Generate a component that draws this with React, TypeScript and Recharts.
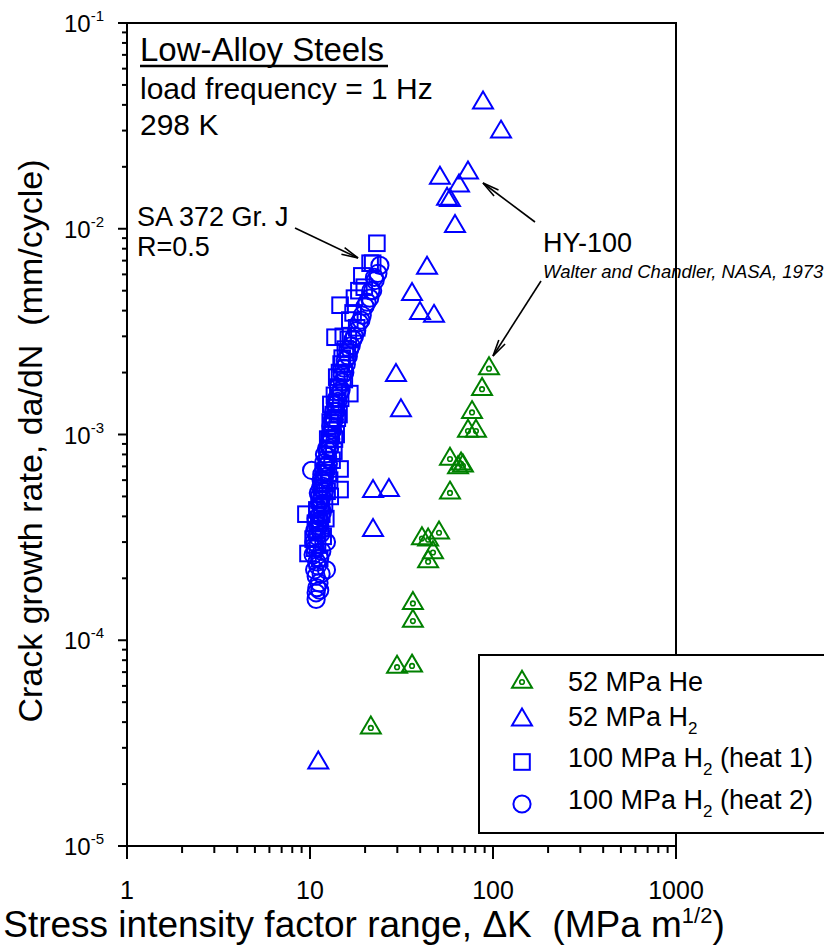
import React from "react";
import { ScatterChart, Scatter, XAxis, YAxis, ReferenceArea, Legend } from "recharts";

const FONT = '"Liberation Sans", Arial, Helvetica, sans-serif';

// 52 MPa He (HY-100)
const heliumDK = [95.1, 87.1, 76.8, 73.0, 80.7, 58.2, 66.9, 68.5, 64.4, 58.2, 40.9, 44.2, 50.7, 47.0, 44.2, 36.5, 36.5, 29.9, 36.1, 21.5];
const heliumRate = [2.09e-3, 1.66e-3, 1.28e-3, 1.04e-3, 1.04e-3, 7.6e-4, 7.2e-4, 7.05e-4, 6.9e-4, 5.2e-4, 3.12e-4, 3.08e-4, 3.33e-4, 2.67e-4, 2.41e-4, 1.51e-4, 1.24e-4, 7.4e-5, 7.5e-5, 3.75e-5];

// 52 MPa H2 (HY-100)
const h2DK = [88.2, 110.6, 73.0, 51.3, 65.2, 56.1, 58.2, 62.0, 43.6, 36.1, 39.9, 47.6, 29.5, 31.4, 22.1, 27.0, 22.1, 11.1];
const h2Rate = [4.22e-2, 3.05e-2, 1.93e-2, 1.82e-2, 1.67e-2, 1.44e-2, 1.42e-2, 1.06e-2, 6.64e-3, 4.96e-3, 4.01e-3, 3.88e-3, 2.0e-3, 1.35e-3, 5.46e-4, 5.52e-4, 3.53e-4, 2.62e-5];

// 100 MPa H2, heat 1 (SA 372 Gr. J)
const heat1DK = [
  23.2, 21.3, 22.0, 19.2, 19.8, 18.5, 17.5, 14.6, 17.2, 16.5, 18.0, 13.7, 16.2, 15.6, 14.8, 14.2, 16.5, 13.0, 13.8, 14.4,
  13.2, 13.9, 12.8, 13.5, 12.4, 14.6, 12.6, 12.0, 14.6, 12.9, 11.5, 9.5, 12.2, 11.2, 11.0, 11.8, 10.6, 9.75, 11.3,
  15.2, 16.0, 15.0, 14.5, 15.4, 14.0, 14.7, 13.6, 14.1, 13.4, 12.9, 13.6, 13.0, 12.5, 13.2, 12.3, 12.8, 11.8, 12.4, 11.6,
  12.0, 11.2, 11.6, 10.9, 11.4, 10.7, 10.4, 11.0,
];
const heat1Rate = [
  8.5e-3, 6.8e-3, 6.8e-3, 5.9e-3, 5.2e-3, 5.0e-3, 4.6e-3, 4.25e-3, 3.9e-3, 3.6e-3, 3.3e-3, 2.97e-3, 2.9e-3, 2.6e-3, 2.2e-3, 1.7e-3, 1.58e-3, 1.4e-3, 1.35e-3, 1.25e-3,
  1.1e-3, 1.0e-3, 9.0e-4, 8.3e-4, 8.0e-4, 6.8e-4, 6.5e-4, 5.8e-4, 5.4e-4, 5.0e-4, 4.5e-4, 4.1e-4, 3.9e-4, 3.7e-4, 3.4e-4, 3.2e-4, 2.8e-4, 2.64e-4, 2.5e-4,
  3.0e-3, 2.5e-3, 2.35e-3, 2.0e-3, 1.85e-3, 1.9e-3, 1.5e-3, 1.55e-3, 1.2e-3, 1.25e-3, 1.15e-3, 9.5e-4, 1.0e-3, 9.5e-4, 7.5e-4, 7.0e-4, 6.0e-4, 6.5e-4, 5.3e-4, 5.5e-4,
  4.6e-4, 4.8e-4, 4.1e-4, 4.3e-4, 3.5e-4, 3.7e-4, 3.1e-4, 2.9e-4,
];

// 100 MPa H2, heat 2
const heat2DK = [
  24.1, 23.5, 22.7, 22.5, 21.5, 22.0, 21.2, 20.5, 20.0, 19.3, 19.0, 18.6, 18.0, 17.5, 17.2, 16.8, 16.2, 15.8, 15.3, 15.5,
  15.0, 14.6, 14.0, 14.2, 13.9, 13.3, 13.6, 13.3, 13.0, 12.8, 12.0, 12.5, 12.2, 10.2, 12.0, 11.5, 11.8, 11.6, 11.4, 11.2,
  11.0, 10.9, 12.3, 10.7, 11.3, 11.0, 12.3, 10.8, 11.2, 10.9, 10.8, 10.8,
  16.5, 15.6, 15.0, 14.3, 14.8, 13.8, 13.5, 13.0, 12.9, 12.6, 12.3, 12.6, 11.9, 12.1, 11.6, 11.4, 12.0, 11.1, 11.5, 11.0,
  11.7, 10.8, 11.3, 10.6, 11.5, 10.5, 11.6, 10.4, 10.9, 11.5, 10.6, 11.3,
];
const heat2Rate = [
  6.64e-3, 6.07e-3, 5.6e-3, 5.8e-3, 5.0e-3, 5.0e-3, 4.6e-3, 4.4e-3, 4.2e-3, 3.8e-3, 3.6e-3, 3.5e-3, 3.2e-3, 3.0e-3, 2.9e-3, 2.7e-3, 2.4e-3, 2.2e-3, 2.1e-3, 2.0e-3,
  1.8e-3, 1.6e-3, 1.5e-3, 1.45e-3, 1.3e-3, 1.2e-3, 1.18e-3, 1.05e-3, 9.5e-4, 8.6e-4, 8.0e-4, 7.8e-4, 7.0e-4, 6.7e-4, 6.2e-4, 6.0e-4, 5.6e-4, 5.0e-4, 4.5e-4, 4.0e-4,
  3.6e-4, 3.2e-4, 3.0e-4, 2.8e-4, 2.5e-4, 2.3e-4, 2.2e-4, 2.05e-4, 1.9e-4, 1.8e-4, 1.7e-4, 1.58e-4,
  2.6e-3, 2.3e-3, 1.95e-3, 1.7e-3, 1.65e-3, 1.4e-3, 1.3e-3, 1.1e-3, 1.0e-3, 9.0e-4, 8.5e-4, 7.2e-4, 7.3e-4, 6.5e-4, 6.4e-4, 5.5e-4, 5.3e-4, 5.2e-4, 4.8e-4, 4.4e-4,
  4.2e-4, 3.9e-4, 3.8e-4, 3.4e-4, 3.3e-4, 3.0e-4, 2.7e-4, 2.6e-4, 2.4e-4, 2.1e-4, 2.2e-4, 1.75e-4,
];

const xMajor = [1, 10, 100, 1000];
const xLabels = ["1", "10", "100", "1000"];
const yMajor = [1e-5, 1e-4, 1e-3, 1e-2, 1e-1];
const yExp = ["-5", "-4", "-3", "-2", "-1"];

const withMinors = (majors: number[]) => {
  const out: number[] = [];
  majors.forEach((m, i) => {
    out.push(m);
    if (i < majors.length - 1) for (let k = 2; k < 10; k++) out.push(m * k);
  });
  return out;
};
const xTicks = withMinors(xMajor);
const yTicks = withMinors(yMajor);

const toPoints = (xs: number[], ys: number[]) => xs.map((x, i) => ({ x, y: ys[i] }));

const BLUE = "#0000ff";
const GREEN = "#008000";

const triPath = (cx: number, cy: number, w: number, h: number, centroid: boolean) => {
  const top = centroid ? cy - (2 * h) / 3 : cy - h / 2;
  const base = centroid ? cy + h / 3 : cy + h / 2;
  return `M${cx},${top} L${cx + w / 2},${base} L${cx - w / 2},${base} Z`;
};

const GreenTri = ({ cx, cy }: any) => (
  <g fill="none" stroke={GREEN} strokeWidth={2}>
    <path d={triPath(cx, cy, 20, 17, true)} />
    <circle cx={cx} cy={cy} r={2.3} strokeWidth={1.6} />
  </g>
);
const BlueTri = ({ cx, cy }: any) => (
  <path d={triPath(cx, cy, 20, 17, false)} fill="none" stroke={BLUE} strokeWidth={2} />
);
const BlueSquare = ({ cx, cy }: any) => (
  <rect x={cx - 7.8} y={cy - 7.8} width={15.6} height={15.6} fill="none" stroke={BLUE} strokeWidth={2} />
);
const BlueCircle = ({ cx, cy }: any) => (
  <circle cx={cx} cy={cy} r={8.6} fill="none" stroke={BLUE} strokeWidth={2} />
);

const XTick = ({ x, y, payload }: any) => {
  const i = xMajor.indexOf(payload.value);
  const major = i >= 0;
  return (
    <g>
      <line x1={x} x2={x} y1={y} y2={y + (major ? 13 : 7)} stroke="#000" strokeWidth={2} />
      {major && (
        <text x={x} y={y + 53} textAnchor="middle" fontSize={25} fontFamily={FONT} fill="#000">
          {xLabels[i]}
        </text>
      )}
    </g>
  );
};

const YTick = ({ x, y, payload }: any) => {
  const i = yMajor.indexOf(payload.value);
  const major = i >= 0;
  return (
    <g>
      <line x1={x - (major ? 9 : 5)} x2={x} y1={y} y2={y} stroke="#000" strokeWidth={2} />
      {major && (
        <text x={x - 23} y={y + 9} textAnchor="end" fontSize={24} fontFamily={FONT} fill="#000">
          10
          <tspan dy={-11} fontSize={15}>{yExp[i]}</tspan>
        </text>
      )}
    </g>
  );
};

const legendRows = [
  { name: "52 MPa He", sub: "", rest: "", Sym: GreenTri, dy: 0 },
  { name: "52 MPa H", sub: "2", rest: "", Sym: BlueTri, dy: 0 },
  { name: "100 MPa H", sub: "2", rest: " (heat 1)", Sym: BlueSquare, dy: 4 },
  { name: "100 MPa H", sub: "2", rest: " (heat 2)", Sym: BlueCircle, dy: 4 },
];

const LegendBox = () => (
  <div style={{ width: 372, height: 180, border: "2px solid #000", boxSizing: "border-box", background: "#fff" }}>
    <svg width={368} height={176} style={{ display: "block" }}>
      {legendRows.map((r, i) => {
        const base = [35, 70, 111, 153][i];
        return (
          <g key={r.name + i}>
            <r.Sym cx={42} cy={base - 9 + r.dy} />
            <text x={88} y={base} fontSize={27} fontFamily={FONT} fill="#000" style={{ whiteSpace: "pre" }}>
              {r.name}
              {r.sub && (
                <tspan dy={8} fontSize={17}>{r.sub}</tspan>
              )}
              {r.rest && <tspan dy={-8}>{r.rest}</tspan>}
            </text>
          </g>
        );
      })}
    </svg>
  </div>
);

const Arrow = ({ x1, y1, x2, y2 }: { x1: number; y1: number; x2: number; y2: number }) => {
  const a = Math.atan2(y2 - y1, x2 - x1);
  const len = 17;
  const s = 0.22;
  const p1 = `${x2 - len * Math.cos(a - s)},${y2 - len * Math.sin(a - s)}`;
  const p2 = `${x2 - len * Math.cos(a + s)},${y2 - len * Math.sin(a + s)}`;
  return (
    <g stroke="#000" strokeWidth={1.6} fill="none">
      <line x1={x1} y1={y1} x2={x2} y2={y2} />
      <polyline points={`${p1} ${x2},${y2} ${p2}`} />
    </g>
  );
};

export default function App() {
  return (
    <div style={{ position: "absolute", left: 0, top: 0, width: 824, height: 946, overflow: "hidden", background: "#fff" }}>
      <ScatterChart width={824} height={946} margin={{ top: 23, right: 148, bottom: 40, left: 67 }}>
        <XAxis
          type="number"
          dataKey="x"
          scale="log"
          domain={[1, 1000]}
          allowDataOverflow
          ticks={xTicks}
          interval={0}
          tick={<XTick />}
          tickLine={false}
          tickSize={0}
          tickMargin={0}
          height={60}
          axisLine={{ stroke: "#000", strokeWidth: 2 }}
        />
        <YAxis
          type="number"
          dataKey="y"
          scale="log"
          domain={[1e-5, 1e-1]}
          allowDataOverflow
          ticks={yTicks}
          interval={0}
          tick={<YTick />}
          tickLine={false}
          tickSize={0}
          tickMargin={0}
          width={60}
          axisLine={{ stroke: "#000", strokeWidth: 2 }}
        />
        <ReferenceArea x1={1} x2={1000} y1={1e-5} y2={1e-1} fill="none" stroke="#000" strokeWidth={2} ifOverflow="visible" />
        <Legend
          layout="vertical"
          align="center"
          verticalAlign="middle"
          wrapperStyle={{ left: 478, top: 654, width: 372, height: 180 }}
          content={() => <LegendBox />}
        />
        <Scatter name="52 MPa He" data={toPoints(heliumDK, heliumRate)} shape={(p: any) => <GreenTri {...p} />} isAnimationActive={false} />
        <Scatter name="52 MPa H2" data={toPoints(h2DK, h2Rate)} shape={(p: any) => <BlueTri {...p} />} isAnimationActive={false} />
        <Scatter name="100 MPa H2 (heat 1)" data={toPoints(heat1DK, heat1Rate)} shape={(p: any) => <BlueSquare {...p} />} isAnimationActive={false} />
        <Scatter name="100 MPa H2 (heat 2)" data={toPoints(heat2DK, heat2Rate)} shape={(p: any) => <BlueCircle {...p} />} isAnimationActive={false} />
      </ScatterChart>

      <svg width={824} height={946} style={{ position: "absolute", left: 0, top: 0, pointerEvents: "none" }} fontFamily={FONT}>
        <text x={140} y={61} fontSize={33} fill="#000">Low-Alloy Steels</text>
        <line x1={140} x2={388} y1={66} y2={66} stroke="#000" strokeWidth={2.5} />
        <text x={140} y={99} fontSize={30} fill="#000">load frequency = 1 Hz</text>
        <text x={140} y={135} fontSize={30} fill="#000">298 K</text>

        <text x={137} y={226} fontSize={27} fill="#000">SA 372 Gr. J</text>
        <text x={137} y={256} fontSize={27} fill="#000">R=0.5</text>
        <Arrow x1={295} y1={228} x2={358} y2={258} />

        <text x={543} y={252} fontSize={27} fill="#000">HY-100</text>
        <text x={543} y={278} fontSize={18.5} fontStyle="italic" fill="#000">Walter and Chandler, NASA, 1973</text>
        <Arrow x1={535} y1={222} x2={483} y2={183} />
        <Arrow x1={541} y1={281} x2={493} y2={356} />

        <text x={42} y={441} fontSize={34} fill="#000" textAnchor="middle" transform="rotate(-90 42 441)" style={{ whiteSpace: "pre" }}>
          Crack growth rate, da/dN  (mm/cycle)
        </text>
        <text x={364} y={937} fontSize={37} fill="#000" textAnchor="middle" style={{ whiteSpace: "pre" }}>
          Stress intensity factor range, ΔK  (MPa m
          <tspan dy={-14} fontSize={22}>1/2</tspan>
          <tspan dy={14}>)</tspan>
        </text>
      </svg>
    </div>
  );
}
